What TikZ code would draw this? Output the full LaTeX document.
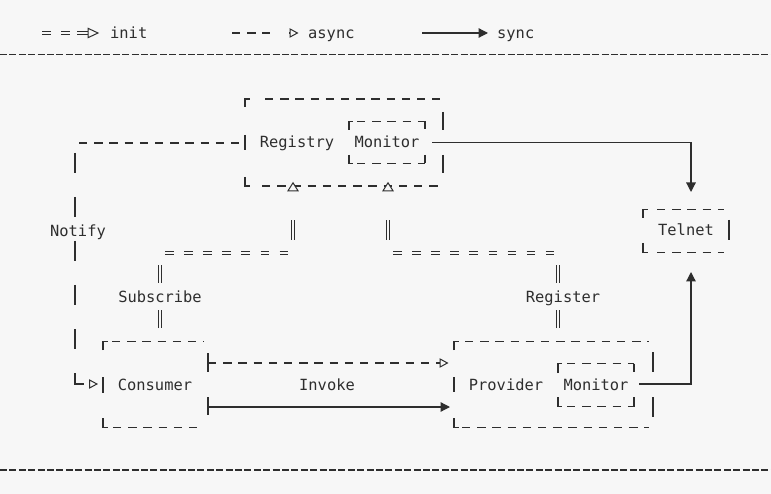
\documentclass[tikz,border=0pt]{standalone}
\usepackage{fontspec}
\newfontfamily\dubbofont{DejaVu Sans Mono}
\usetikzlibrary{arrows.meta}
\definecolor{ink}{HTML}{2E2E2E}
\definecolor{paper}{HTML}{F7F7F7}
% open triangle where an init line enters the registry
\newcommand{\inittip}[1]{\draw[ln,line width=1pt,fill=paper] (#1) ++(-5,3.8) -- ++(5,-8) -- ++(5,8) -- cycle;}

\begin{document}
\begin{tikzpicture}[x=1pt,y=-1pt,
    every node/.style={font=\dubbofont\fontsize{15.4}{18}\selectfont,text=ink,inner sep=0pt,anchor=base},
    ln/.style={draw=ink,line width=1.25pt},
    dashln/.style={ln,dash pattern=on 8.3pt off 6.9pt},
    sepln/.style={ln,dash pattern=on 7pt off 2.4pt},
    initln/.style={draw=ink,line width=1.1pt,double=paper,double distance=1.5pt},
    initdash/.style={initln,dash pattern=on 8.5pt off 10.6pt},
    opentip/.style={-{Triangle[open,length=9pt,width=9.5pt,line width=1pt]}},
    async/.style={dashln,opentip},
    sync/.style={ln,-{Triangle[length=9.5pt,width=9.5pt]}}]

  \fill[paper] (0,0) rectangle (771,494);
  \useasboundingbox (0,0) rectangle (771,494);

  % legend
  \draw[initdash] (42,33) -- (70,33);
  \draw[initln] (77,33) -- (89,33);
  \draw[ln,line width=1pt,fill=paper] (88,28.3) -- (98,33) -- (88,37.7) -- cycle;
  \node[anchor=base west] (initkey) at (110,38.3) {init};
  \draw[dashln] (232,33) -- (270,33);
  \draw[ln,opentip] (289,33) -- (298.5,33);
  \node[anchor=base west] (asynckey) at (308,38.3) {async};
  \draw[sync] (422,33) -- (488,33);
  \node[anchor=base west] (synckey) at (497,38.3) {sync};
  \draw[sepln] (0,54.5) -- (771,54.5);
  \draw[sepln] (0,470) -- (771,470);

  % texts
  \node (registry) at (297,148) {Registry};
  \node (regmon) at (387,148) {Monitor};
  \node (telnet) at (686,236) {Telnet};
  \node (notify) at (78,236.5) {Notify};
  \node (subscribe) at (160,302) {Subscribe};
  \node (register) at (563,302) {Register};
  \node (consumer) at (155,390) {Consumer};
  \node (invoke) at (327,390) {Invoke};
  \node (provider) at (506,390) {Provider};
  \node (provmon) at (596,390) {Monitor};

  % registry box
  \draw[ln] (245,107) -- (245,99) -- (250,99);
  \draw[dashln] (265,99) -- (440,99);
  \draw[ln] (245,135) -- (245,150);
  \draw[ln] (443,112) -- (443,130);
  \draw[ln] (443,155) -- (443,173);
  \draw[ln] (245,177) -- (245,186) -- (250,186);
  \draw[dashln] (262,186) -- (440,186);
  \draw[ln] (349,130) -- (349,121.5) -- (353,121.5);
  \draw[dashln] (357,121.5) -- (425,121.5);
  \draw[ln] (425,121.5) -- (425,129);
  \draw[ln] (349,155) -- (349,163.5) -- (353,163.5);
  \draw[dashln] (357,163.5) -- (425,163.5);
  \draw[ln] (425,155) -- (425,163.5);

  % telnet box
  \draw[ln] (643,218) -- (643,209.5) -- (648,209.5);
  \draw[dashln] (657,209.5) -- (724,209.5);
  \draw[ln] (729,220) -- (729,240);
  \draw[ln] (643,243) -- (643,252.5) -- (648,252.5);
  \draw[dashln] (657,252.5) -- (724,252.5);

  % consumer box
  \draw[ln] (103,350) -- (103,341.5) -- (108,341.5);
  \draw[dashln] (112,341.5) -- (204,341.5);
  \draw[ln] (103,377) -- (103,393);
  \draw[ln] (208,353) -- (208,372);
  \draw[ln] (208,397) -- (208,415);
  \draw[ln] (103,418) -- (103,427.5) -- (108,427.5);
  \draw[dashln] (113,427.5) -- (204,427.5);

  % provider box
  \draw[ln] (454,350) -- (454,341.5) -- (459,341.5);
  \draw[dashln] (465,341.5) -- (649,341.5);
  \draw[ln] (454,377) -- (454,392);
  \draw[ln] (653,352) -- (653,372);
  \draw[ln] (653,397) -- (653,417);
  \draw[ln] (454,418) -- (454,427.5) -- (459,427.5);
  \draw[dashln] (462,427.5) -- (649,427.5);
  \draw[ln] (558,373) -- (558,363.5) -- (562,363.5);
  \draw[dashln] (567,363.5) -- (634,363.5);
  \draw[ln] (634,363.5) -- (634,372);
  \draw[ln] (558,397) -- (558,406.5) -- (562,406.5);
  \draw[dashln] (567,406.5) -- (634,406.5);
  \draw[ln] (634,397) -- (634,406.5);

  % connectors
  \coordinate (notifytop) at (79,143);
  \coordinate (regleft) at (245,143);
  \coordinate (notifydown) at (75,153);
  \coordinate (conin) at (98,384);
  \draw[dashln] (notifytop) -- (regleft);
  \draw[ln,dash pattern=on 20pt off 24pt,opentip] (notifydown) |- (conin);

  \coordinate (regout) at (432,142.5);
  \coordinate (telin) at (691,192);
  \draw[sync] (regout) -| (telin);
  \coordinate (monout) at (639,384);
  \coordinate (telback) at (691,272);
  \draw[sync] (monout) -| (telback);

  \coordinate (conasync) at (208,363);
  \coordinate (provasync) at (448.5,363);
  \draw[async] (conasync) -- (provasync);
  \coordinate (consync) at (208,407);
  \coordinate (provsync) at (450,407);
  \draw[sync] (consync) -- (provsync);

  % init: consumer subscribes, provider registers
  \draw[initln] (160,328) -- (160,310);
  \draw[initln] (160,283) -- (160,265);
  \draw[initdash] (165,253) -- (290,253);
  \draw[initln] (293,240) -- (293,220);
  \inittip{293,187}
  \draw[initln] (558,328) -- (558,310);
  \draw[initln] (558,283) -- (558,265);
  \draw[initdash] (393,253) -- (555,253);
  \draw[initln] (388,240) -- (388,220);
  \inittip{388,187}

\end{tikzpicture}
\end{document}
